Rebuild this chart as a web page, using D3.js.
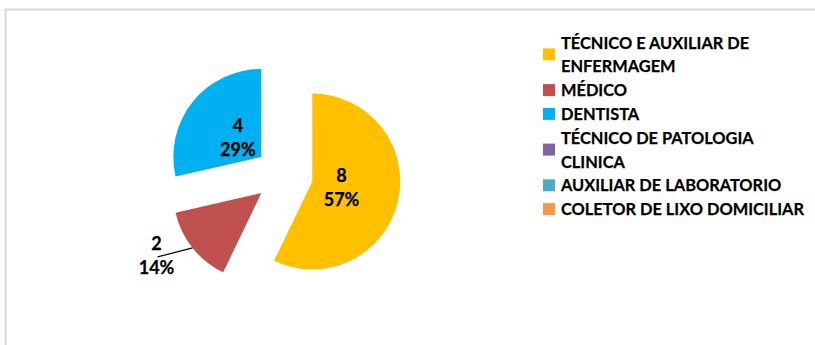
<!DOCTYPE html>
<html>
<head>
<meta charset="utf-8">
<script src="https://cdn.jsdelivr.net/npm/d3@7"></script>
<style>
  body { margin: 0; background: #fff; }
  svg { display: block; }
  text { font-family: Lato, "Open Sans", sans-serif; font-weight: 700; fill: #000; stroke: #000; stroke-width: 0.25px; }
</style>
</head>
<body>
<svg id="chart" width="815" height="345"></svg>
<script>
// Profissionais por categoria
const categories = [
  "TÉCNICO E AUXILIAR DE ENFERMAGEM",
  "MÉDICO",
  "DENTISTA",
  "TÉCNICO DE PATOLOGIA CLINICA",
  "AUXILIAR DE LABORATORIO",
  "COLETOR DE LIXO DOMICILIAR"
];
const values = [8, 2, 4, 0, 0, 0];
const colors = ["#FFC000", "#C0504D", "#00B0F0", "#8064A2", "#4BACC6", "#F79646"];

const W = 815, H = 345;
const FONT = 17, LABEL_FONT = 18;
const svg = d3.select("#chart");

// chart area frame
svg.append("rect")
  .attr("x", 5.5).attr("y", 9.5)
  .attr("width", W).attr("height", H)
  .attr("fill", "#fff")
  .attr("stroke", "#d9d9d9").attr("stroke-width", 2);

// ---- pie ----
const cx = 284, cy = 175, R = 88, explode = 29;
const total = d3.sum(values);
const pie = d3.pie().sort(null).value(d => d);
const arcs = pie(values).map((a, i) => ({ ...a, i }));
const arc = d3.arc().innerRadius(0).outerRadius(R);
const labelArc = d3.arc().innerRadius(0).outerRadius(60);
const pct = d3.format(".0%");

function dir(a) {
  const m = (a.startAngle + a.endAngle) / 2;
  return [Math.sin(m), -Math.cos(m)];
}

const g = svg.append("g").attr("transform", `translate(${cx},${cy})`);
const slices = g.selectAll("g.slice")
  .data(arcs.filter(a => a.value > 0))
  .join("g")
  .attr("class", "slice")
  .attr("transform", d => {
    const [x, y] = dir(d);
    return `translate(${x * explode},${y * explode})`;
  });

slices.append("path")
  .attr("d", arc)
  .attr("fill", d => colors[d.i]);

// data labels: value + percentage
const lineGap = 24;
slices.each(function (d) {
  const s = d3.select(this);
  let lx, ly;
  if (d.value / total >= 0.2) {
    [lx, ly] = labelArc.centroid(d);
  } else {
    // small slice: label outside with a leader line
    const [ux, uy] = dir(d);
    const ox = ux * R, oy = uy * R;
    lx = ox - 36; ly = oy + 8;
    s.append("line")
      .attr("x1", ox).attr("y1", oy)
      .attr("x2", lx + 1).attr("y2", ly + 1)
      .attr("stroke", "#000").attr("stroke-width", 1.2);
  }
  const t = s.append("text").attr("text-anchor", "middle").attr("font-size", LABEL_FONT);
  t.append("tspan").attr("x", lx).attr("y", ly - 6).text(d.value);
  t.append("tspan").attr("x", lx).attr("y", ly - 6 + lineGap).text(pct(d.value / total));
});

// ---- legend ----
const legX = 543, legTextX = 561, legTop = 48.5, legStep = 23.8, maxLine = 250;
const legend = svg.append("g");

// horizontal fit of the legend font
const probe = legend.append("text").attr("font-size", FONT).text(categories[5]);
const fit = 243 / probe.node().getComputedTextLength();
probe.remove();

function measure(str) {
  const t = legend.append("text").attr("font-size", FONT).text(str);
  const w = t.node().getComputedTextLength() * fit;
  t.remove();
  return w;
}

function wrap(str) {
  const words = str.split(" ");
  const lines = [];
  let cur = words[0];
  for (let k = 1; k < words.length; k++) {
    const next = cur + " " + words[k];
    if (measure(next) > maxLine) { lines.push(cur); cur = words[k]; }
    else cur = next;
  }
  lines.push(cur);
  return lines;
}

let row = 0;
categories.forEach((c, i) => {
  const lines = wrap(c);
  const first = legTop + row * legStep;
  const last = first + (lines.length - 1) * legStep;
  const mid = (first + last) / 2 - 6;
  legend.append("rect")
    .attr("x", legX).attr("y", mid - 6)
    .attr("width", 12).attr("height", 12)
    .attr("fill", colors[i]);
  lines.forEach((ln, k) => {
    const t = legend.append("text")
      .attr("x", legTextX)
      .attr("y", first + k * legStep)
      .attr("font-size", FONT)
      .text(ln);
    const w = t.node().getComputedTextLength();
    t.attr("textLength", w * fit).attr("lengthAdjust", "spacingAndGlyphs");
  });
  row += lines.length;
});
</script>
</body>
</html>
